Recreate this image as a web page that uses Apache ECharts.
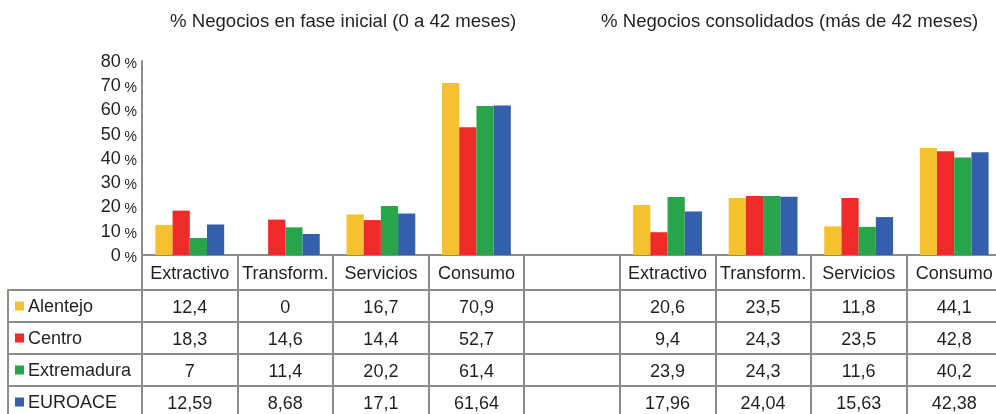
<!DOCTYPE html>
<html>
<head>
<meta charset="utf-8">
<script src="https://cdn.jsdelivr.net/npm/echarts@6/dist/echarts.min.js"></script>
<style>
  html, body { margin: 0; padding: 0; background: #fff; }
  #main { width: 996px; height: 414px; }
</style>
</head>
<body>
<div id="main"></div>
<script>
var sectors = ['Extractivo', 'Transform.', 'Servicios', 'Consumo'];
var regions = ['Alentejo', 'Centro', 'Extremadura', 'EUROACE'];
var colors = ['#f4c22e', '#ee2b28', '#28a44a', '#345fab'];
var titles = ['% Negocios en fase inicial (0 a 42 meses)', '% Negocios consolidados (más de 42 meses)'];

// fase inicial (0 a 42 meses)
var inicialAlentejo = [12.4, 0, 16.7, 70.9];
var inicialCentro = [18.3, 14.6, 14.4, 52.7];
var inicialExtremadura = [7, 11.4, 20.2, 61.4];
var inicialEuroace = [12.59, 8.68, 17.1, 61.64];

// consolidados (más de 42 meses)
var consolAlentejo = [20.6, 23.5, 11.8, 44.1];
var consolCentro = [9.4, 24.3, 23.5, 42.8];
var consolExtremadura = [23.9, 24.3, 11.6, 40.2];
var consolEuroace = [17.96, 24.04, 15.63, 42.38];

var inicial = [inicialAlentejo, inicialCentro, inicialExtremadura, inicialEuroace];
var consol = [consolAlentejo, consolCentro, consolExtremadura, consolEuroace];

// categorias: 4 sectores, columna vacia, 4 sectores
var categories = sectors.concat([''], sectors);

var font = "'Liberation Sans', Arial, Helvetica, sans-serif";
var textColor = '#231f20';
var lineColor = '#8c8c8c';

var headerH = 35;
var rowH = 32;

var myChart = echarts.init(document.getElementById('main'));

var rowValues = regions.map(function (r, i) {
  return inicial[i].concat([null], consol[i]);
});

function fmt(v) {
  return v == null ? '' : String(v).replace('.', ',');
}

var xAxes = [{
  type: 'category',
  gridIndex: 0,
  position: 'bottom',
  data: categories,
  axisLine: { onZero: false, lineStyle: { color: lineColor, width: 2 } },
  axisTick: { show: true, interval: 0, length: headerH, lineStyle: { color: lineColor, width: 2 } },
  axisLabel: { interval: 0, margin: 10, fontSize: 18, fontFamily: font, color: textColor }
}];
rowValues.forEach(function (vals, i) {
  xAxes.push({
    type: 'category',
    gridIndex: 0,
    position: 'bottom',
    offset: headerH + i * rowH,
    data: vals.map(fmt),
    axisLine: { onZero: false, lineStyle: { color: lineColor, width: 2 } },
    axisTick: { show: true, interval: 0, length: rowH, lineStyle: { color: lineColor, width: 2 } },
    axisLabel: { interval: 0, margin: 9, fontSize: 18, fontFamily: font, color: textColor }
  });
});
xAxes.push({ type: 'value', gridIndex: 1, show: false });

var rich = {
  t: { fontSize: 18, fontFamily: font, color: textColor, lineHeight: 20, verticalAlign: 'bottom', padding: [0, 0, 0, 4] }
};
regions.forEach(function (r, i) {
  rich['s' + i] = { width: 9, height: 9, backgroundColor: colors[i], verticalAlign: 'middle' };
});

var titleStyle = { fontSize: 18.6, fontWeight: 'normal', color: textColor, fontFamily: font };

var option = {
  animation: false,
  textStyle: { fontFamily: font },
  title: [
    { text: titles[0], left: 170, top: 12, padding: 0, textStyle: titleStyle },
    { text: titles[1], left: 601, top: 12, padding: 0, textStyle: titleStyle }
  ],
  grid: [
    { left: 142, width: 860, top: 61, height: 194, outerBoundsMode: 'none' },
    { left: 8, width: 134, top: 255 + headerH, height: rowH * 4, outerBoundsMode: 'none' }
  ],
  xAxis: xAxes,
  yAxis: [{
    type: 'value',
    gridIndex: 0,
    min: 0,
    max: 80,
    interval: 10,
    axisLine: { show: true, lineStyle: { color: lineColor, width: 2 } },
    axisTick: { show: false },
    splitLine: { show: false },
    axisLabel: {
      margin: 5,
      formatter: function (v) { return '{n|' + v + '}{p| %}'; },
      rich: {
        n: { fontSize: 18, fontFamily: font, color: textColor, verticalAlign: 'bottom', lineHeight: 20 },
        p: { fontSize: 14, fontFamily: font, color: textColor, verticalAlign: 'bottom', lineHeight: 18 }
      }
    }
  }, {
    type: 'category',
    gridIndex: 1,
    inverse: true,
    data: regions,
    axisLine: { show: true, onZero: false, lineStyle: { color: lineColor, width: 2 } },
    axisTick: { show: true, inside: true, interval: 0, length: 134, lineStyle: { color: lineColor, width: 2 } },
    axisLabel: {
      inside: true,
      margin: 7,
      interval: 0,
      formatter: function (v, i) { return '{s' + i + '|}{t|' + v + '}'; },
      rich: rich
    }
  }],
  series: regions.map(function (r, i) {
    return {
      name: r,
      type: 'bar',
      xAxisIndex: 0,
      yAxisIndex: 0,
      data: rowValues[i].map(function (v) { return v == null ? '-' : v; }),
      barGap: '0%',
      barCategoryGap: '28%',
      itemStyle: { color: colors[i] }
    };
  })
};

myChart.setOption(option);
</script>
</body>
</html>
